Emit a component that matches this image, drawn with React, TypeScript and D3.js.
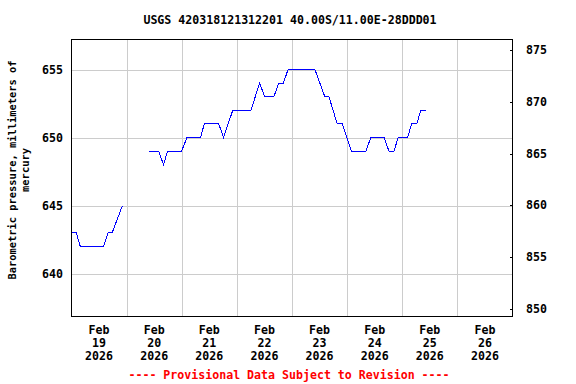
import React from "react";
import * as d3 from "d3";

const title = "USGS 420318121312201 40.00S/11.00E-28DDD01";
const yLabelLine1 = "Barometric pressure, millimeters of";
const yLabelLine2 = "mercury";
const footer = "---- Provisional Data Subject to Revision ----";

// hours since 2026-02-19 00:00 and pressure (mm Hg); null marks a data gap
const hours: number[] = [
  0, 2.1, 3.8, 13.9, 15.9, 17.7, 22.2,
  28,
  33.8, 37.9, 40.1, 41.8, 47.9, 50.3, 56.2, 57.8, 64.1, 66.2, 70.2, 78.1,
  81.9, 84.1, 88.1, 90.2, 92.2, 94.3, 106.0, 110.3, 112.1, 115.7, 117.9,
  121.8, 128.2, 130.3, 136.1, 138.2, 140.4, 142.2, 146.3, 148.1, 150.3,
  152.1, 154.4,
];
const values: (number | null)[] = [
  643, 643, 642, 642, 643, 643, 645,
  null,
  649, 649, 648, 649, 649, 650, 650, 651, 651, 650, 652, 652,
  654, 653, 653, 654, 654, 655, 655, 653, 653, 651, 651,
  649, 649, 650, 650, 649, 649, 650, 650, 651, 651,
  652, 652,
];

const leftTicks = [640, 645, 650, 655];
const rightTicks = [850, 855, 860, 865, 870, 875];
const dayTicks = [19, 20, 21, 22, 23, 24, 25, 26];
const monthLabel = "Feb";
const yearLabel = "2026";

const W = 576;
const H = 384;
const left = 71.5;
const right = 512.5;
const top = 39.5;
const bottom = 316.5;

const t0 = new Date(2026, 1, 19, 0, 0);
const t1 = new Date(2026, 1, 27, 0, 0);

export default function App() {
  const x = d3.scaleTime().domain([t0, t1]).range([left, right]);
  const y = d3.scaleLinear().domain([636.84, 657.21]).range([bottom, top]);
  const yR = d3.scaleLinear().domain([849.25, 876.06]).range([bottom, top]);

  const pts = hours.map((h, i) => ({
    t: new Date(t0.getTime() + h * 3600 * 1000),
    v: values[i],
  }));
  const line = d3
    .line<{ t: Date; v: number | null }>()
    .defined((d) => d.v !== null)
    .x((d) => x(d.t))
    .y((d) => y(d.v as number));

  const font = "'DejaVu Sans Mono', monospace";
  const gridDays = d3.range(1, 8).map((i) => new Date(2026, 1, 19 + i));

  return (
    <svg
      width={W}
      height={H}
      style={{ position: "absolute", left: 0, top: 0, background: "#fff" }}
      fontFamily={font}
      fontWeight="bold"
    >
      <rect x={0} y={0} width={W} height={H} fill="#fff" />
      <text x={290} y={24} fontSize={11.6} textAnchor="middle" fill="#000">
        {title}
      </text>
      {leftTicks.map((v) => (
        <line
          key={"gh" + v}
          x1={left}
          x2={right}
          y1={Math.round(y(v)) + 0.5}
          y2={Math.round(y(v)) + 0.5}
          stroke="#cccccc"
          shapeRendering="crispEdges"
        />
      ))}
      {gridDays.map((d, i) => (
        <line
          key={"gv" + i}
          x1={Math.round(x(d)) + 0.5}
          x2={Math.round(x(d)) + 0.5}
          y1={top}
          y2={bottom}
          stroke="#cccccc"
          shapeRendering="crispEdges"
        />
      ))}
      <path
        d={line(pts) || ""}
        fill="none"
        stroke="#0000ff"
        strokeWidth={1}
        shapeRendering="crispEdges"
      />
      <rect
        x={left}
        y={top}
        width={right - left}
        height={bottom - top}
        fill="none"
        stroke="#000"
        shapeRendering="crispEdges"
      />
      {leftTicks.map((v) => (
        <text
          key={"lt" + v}
          x={63}
          y={y(v) + 4}
          fontSize={11.6}
          textAnchor="end"
          fill="#000"
        >
          {v}
        </text>
      ))}
      {rightTicks.map((v) => (
        <g key={"rt" + v}>
          <line
            x1={right - 3}
            x2={right}
            y1={Math.round(yR(v)) + 0.5}
            y2={Math.round(yR(v)) + 0.5}
            stroke="#000"
            shapeRendering="crispEdges"
          />
          <text x={526} y={yR(v) + 4} fontSize={11.6} fill="#000">
            {v}
          </text>
        </g>
      ))}
      {dayTicks.map((d) => {
        const cx = x(new Date(2026, 1, d, 12));
        return (
          <text key={"d" + d} fontSize={11.6} textAnchor="middle" fill="#000">
            <tspan x={cx} y={334}>{monthLabel}</tspan>
            <tspan x={cx} y={347}>{d}</tspan>
            <tspan x={cx} y={360}>{yearLabel}</tspan>
          </text>
        );
      })}
      <text
        transform="translate(16,170) rotate(-90)"
        fontSize={10.4}
        textAnchor="middle"
        fill="#000"
      >
        {yLabelLine1}
      </text>
      <text
        transform="translate(29,170) rotate(-90)"
        fontSize={10.4}
        textAnchor="middle"
        fill="#000"
      >
        {yLabelLine2}
      </text>
      <text x={289} y={379} fontSize={11.6} textAnchor="middle" fill="#ff0000">
        {footer}
      </text>
    </svg>
  );
}
